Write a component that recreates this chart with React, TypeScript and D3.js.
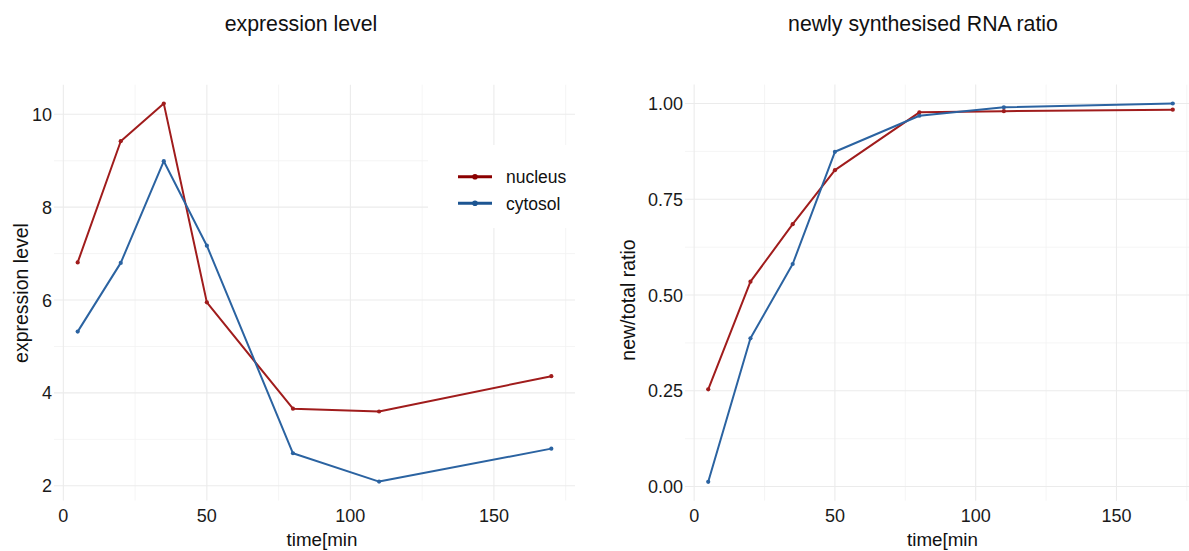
import React from "react";
import * as d3 from "d3";

const times = [5, 20, 35, 50, 80, 110, 170];
const nucleusExpr = [6.81, 9.42, 10.23, 5.95, 3.66, 3.6, 4.36];
const cytosolExpr = [5.32, 6.8, 8.99, 7.17, 2.7, 2.09, 2.8];
const nucleusRatio = [0.254, 0.535, 0.685, 0.826, 0.977, 0.98, 0.984];
const cytosolRatio = [0.0125, 0.387, 0.581, 0.874, 0.968, 0.99, 1.0];

const xTicks = [0, 50, 100, 150];
const xMinor = [25, 75, 125, 175];
const exprTicks = [2, 4, 6, 8, 10];
const exprMinor = [3, 5, 7, 9];
const ratioTicks = [0, 0.25, 0.5, 0.75, 1.0];
const ratioMinor = [0.125, 0.375, 0.625, 0.875];

const seriesNames = ["nucleus", "cytosol"];
const lineColors = ["#a01c1c", "#2b63a1"];
const legendColors = ["#8b0000", "#1c5592"];

const FONT = "'Liberation Sans', Arial, Helvetica, sans-serif";
const W = 1189;
const H = 551;

function expand(vals: number[]): [number, number] {
  const [a, b] = d3.extent(vals) as [number, number];
  const pad = (b - a) * 0.05;
  return [a - pad, b + pad];
}

type PanelProps = {
  left: number;
  right: number;
  top: number;
  bottom: number;
  series: number[][];
  yTicks: number[];
  yMinor: number[];
  yFmt: (v: number) => string;
  title: string;
  titleX: number;
  yTitle: string;
  yTitleX: number;
  yTitleY: number;
  xTitleX: number;
  legend?: boolean;
};

function Panel(p: PanelProps) {
  const x = d3.scaleLinear().domain(expand(times)).range([p.left, p.right]);
  const y = d3
    .scaleLinear()
    .domain(expand(p.series.flat()))
    .range([p.bottom, p.top]);
  const line = d3
    .line<number>()
    .x((_, i) => x(times[i]))
    .y((d) => y(d));
  return (
    <g>
      {xMinor.map((t) => (
        <line key={"xm" + t} x1={x(t)} x2={x(t)} y1={p.top} y2={p.bottom} stroke="#f2f2f2" strokeWidth={0.8} />
      ))}
      {p.yMinor.map((t) => (
        <line key={"ym" + t} x1={p.left} x2={p.right} y1={y(t)} y2={y(t)} stroke="#f2f2f2" strokeWidth={0.8} />
      ))}
      {xTicks.map((t) => (
        <line key={"xg" + t} x1={x(t)} x2={x(t)} y1={p.top} y2={p.bottom} stroke="#ebebeb" strokeWidth={1.1} />
      ))}
      {p.yTicks.map((t) => (
        <line key={"yg" + t} x1={p.left} x2={p.right} y1={y(t)} y2={y(t)} stroke="#ebebeb" strokeWidth={1.1} />
      ))}
      {p.legend && <rect x={428} y={145} width={p.right - 428} height={83} fill="#ffffff" />}
      {p.series.map((s, si) => (
        <g key={"s" + si}>
          <path d={line(s) || ""} fill="none" stroke={lineColors[si]} strokeWidth={2} strokeLinejoin="round" />
          {s.map((v, i) => (
            <circle key={i} cx={x(times[i])} cy={y(v)} r={2.1} fill={lineColors[si]} />
          ))}
        </g>
      ))}
      {xTicks.map((t) => (
        <text key={"xl" + t} x={x(t)} y={522} textAnchor="middle" fontFamily={FONT} fontSize={18} fill="#1a1a1a">
          {t}
        </text>
      ))}
      {p.yTicks.map((t) => (
        <text key={"yl" + t} x={p.left - 2} y={y(t)} dy="0.36em" textAnchor="end" fontFamily={FONT} fontSize={18} fill="#1a1a1a">
          {p.yFmt(t)}
        </text>
      ))}
      <text x={p.titleX} y={31} textAnchor="middle" fontFamily={FONT} fontSize={21.3} fill="#111">
        {p.title}
      </text>
      <text
        transform={`translate(${p.yTitleX},${p.yTitleY}) rotate(-90)`}
        textAnchor="middle"
        fontFamily={FONT}
        fontSize={19.5}
        fill="#111"
      >
        {p.yTitle}
      </text>
      <text x={p.xTitleX} y={546} textAnchor="middle" fontFamily={FONT} fontSize={18.8} fill="#111">
        time[min
      </text>
      {p.legend &&
        seriesNames.map((n, i) => {
          const ly = 176.7 + i * 26.6;
          return (
            <g key={n}>
              <line x1={458} x2={492} y1={ly} y2={ly} stroke={legendColors[i]} strokeWidth={3} />
              <circle cx={475} cy={ly} r={2.8} fill={legendColors[i]} />
              <text x={506} y={ly} dy="0.36em" fontFamily={FONT} fontSize={17.5} fill="#111">
                {n}
              </text>
            </g>
          );
        })}
    </g>
  );
}

export default function App() {
  return (
    <svg width={W} height={H} style={{ position: "absolute", left: 0, top: 0, background: "#fff" }}>
      <rect width={W} height={H} fill="#fff" />
      <Panel
        left={54}
        right={575}
        top={84.7}
        bottom={500.5}
        series={[nucleusExpr, cytosolExpr]}
        yTicks={exprTicks}
        yMinor={exprMinor}
        yFmt={(v) => String(v)}
        title="expression level"
        titleX={301}
        yTitle="expression level"
        yTitleX={28}
        yTitleY={293}
        xTitleX={322}
        legend
      />
      <Panel
        left={685}
        right={1196}
        top={84.6}
        bottom={500.7}
        series={[nucleusRatio, cytosolRatio]}
        yTicks={ratioTicks}
        yMinor={ratioMinor}
        yFmt={(v) => d3.format(".2f")(v)}
        title="newly synthesised RNA ratio"
        titleX={923}
        yTitle="new/total ratio"
        yTitleX={635}
        yTitleY={300}
        xTitleX={942.5}
      />
    </svg>
  );
}
